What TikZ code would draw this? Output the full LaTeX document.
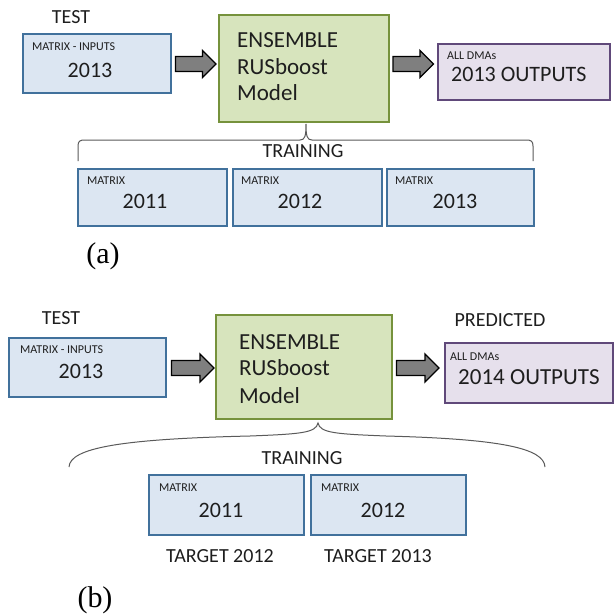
\documentclass[tikz,border=0pt]{standalone}
\usepackage{fontspec}
\setmainfont{Carlito}
\newfontfamily\capfont{Liberation Serif}
\definecolor{bluefill}{RGB}{220,230,242}
\definecolor{blueline}{RGB}{65,113,156}
\definecolor{greenfill}{RGB}{215,228,189}
\definecolor{greenline}{RGB}{118,146,60}
\definecolor{purplefill}{RGB}{230,224,236}
\definecolor{purpleline}{RGB}{96,73,122}
\definecolor{arrowfill}{RGB}{127,127,127}
\definecolor{bracecol}{RGB}{90,90,90}
\definecolor{txt}{RGB}{30,30,30}
\begin{document}
\begin{tikzpicture}[x=1pt,y=-1pt,
  bbox/.style={draw=blueline, fill=bluefill, line width=1.6pt, anchor=north west, inner sep=0pt},
  gbox/.style={draw=greenline, fill=greenfill, line width=1.6pt, anchor=north west, inner sep=0pt},
  pbox/.style={draw=purpleline, fill=purplefill, line width=1.6pt, anchor=north west, inner sep=0pt},
  blockarrow/.style={draw=black, fill=arrowfill, line width=1.4pt, line join=miter},
  small/.style={anchor=west, inner sep=0pt, text=txt, font=\fontsize{12}{12}\selectfont},
  num/.style={inner sep=0pt, text=txt, font=\fontsize{22}{22}\selectfont},
  big/.style={anchor=west, inner sep=0pt, text=txt, font=\fontsize{23}{23}\selectfont},
  head/.style={inner sep=0pt, text=txt, font=\fontsize{20}{20}\selectfont},
  captxt/.style={inner sep=0pt, font=\capfont\fontsize{30}{30}\selectfont},
  brace/.style={draw=bracecol, line width=1pt}]
\useasboundingbox (0,0) rectangle (614,614);
\fill[white] (0,0) rectangle (614,614);

% ---------------- (a) ----------------
\node[head] (aTest) at (71,17) {TEST};
\node[bbox, minimum width=148pt, minimum height=59pt] (aIn) at (22,33) {};
\node[small] (aInS) at (32,47) {MATRIX - INPUTS};
\node[num] (aInN) at (90,70) {2013};

\node[gbox, minimum width=170pt, minimum height=107pt] (aModel) at (218,14) {};
\node[big] (aM1) at (237,40) {ENSEMBLE};
\node[big] (aM2) at (237,67) {RUSboost};
\node[big] (aM3) at (237,93) {Model};

\node[pbox, minimum width=172pt, minimum height=56pt] (aOut) at (437,43) {};
\node[small] (aOutS) at (447,56) {ALL DMAs};
\node[num, anchor=west, font=\fontsize{22}{22}\selectfont] (aOutN) at (451,74) {2013 OUTPUTS};

\coordinate (aArr1) at (195.5,64);
\coordinate (aArr2) at (413,64);
\foreach \c in {aArr1,aArr2}
  \draw[blockarrow, shift={(\c)}] (-20,-7.5) -- (7,-7.5) -- (7,-13.5) -- (20.5,0)
     -- (7,13.5) -- (7,7.5) -- (-20,7.5) -- cycle;

\coordinate (aTip) at (306,124);
\coordinate (aBL) at (78,161);
\coordinate (aBR) at (533,161);
\draw[brace] (aBL) -- (78,146) .. controls (78,141) and (80,140) .. (85,140)
  -- (300,140) .. controls (305,140) and (306,136) .. (aTip)
  .. controls (306,136) and (307,140) .. (312,140) -- (526,140)
  .. controls (531,140) and (533,141) .. (533,146) -- (aBR);
\node[head] (aTrain) at (303,151) {TRAINING};

\node[bbox, minimum width=149pt, minimum height=57pt] (aT1) at (77,168) {};
\node[bbox, minimum width=149pt, minimum height=57pt] (aT2) at (232,168) {};
\node[bbox, minimum width=147pt, minimum height=57pt] (aT3) at (386,168) {};
\node[small] (aT1S) at (87,181) {MATRIX};
\node[small] (aT2S) at (241,181) {MATRIX};
\node[small] (aT3S) at (395,181) {MATRIX};
\node[num] (aT1N) at (145,201) {2011};
\node[num] (aT2N) at (300,201) {2012};
\node[num] (aT3N) at (455,201) {2013};

\node[captxt] (aCap) at (103,256) {(a)};

% ---------------- (b) ----------------
\node[head] (bTest) at (61,318) {TEST};
\node[bbox, minimum width=157pt, minimum height=59pt] (bIn) at (8,337) {};
\node[small] (bInS) at (20,350) {MATRIX - INPUTS};
\node[num] (bInN) at (81,371) {2013};

\node[gbox, minimum width=176pt, minimum height=104pt] (bModel) at (215,314) {};
\node[big] (bM1) at (239,342) {ENSEMBLE};
\node[big] (bM2) at (239,368) {RUSboost};
\node[big] (bM3) at (239,396) {Model};

\node[head] (bPred) at (500,320) {PREDICTED};
\node[pbox, minimum width=168pt, minimum height=60pt] (bOut) at (444,342) {};
\node[small] (bOutS) at (450,357) {ALL DMAs};
\node[num, anchor=west, font=\fontsize{23}{23}\selectfont] (bOutN) at (458,377) {2014 OUTPUTS};

\coordinate (bArr1) at (192.5,368);
\coordinate (bArr2) at (417.5,368);
\foreach \c in {bArr1,bArr2}
  \draw[blockarrow, shift={(\c)}] (-21,-7.5) -- (7.5,-7.5) -- (7.5,-14) -- (21.5,0)
     -- (7.5,14) -- (7.5,7.5) -- (-21,7.5) -- cycle;

\coordinate (bTip) at (318,423);
\coordinate (bBL) at (69,467);
\coordinate (bBR) at (545,467);
\draw[brace] (bBL) .. controls (70,448) and (120,439) .. (250,436)
  .. controls (300,434) and (316,433) .. (bTip)
  .. controls (320,433) and (336,434) .. (386,436)
  .. controls (500,439) and (544,448) .. (bBR);
\node[head] (bTrain) at (302,458) {TRAINING};

\node[bbox, minimum width=155pt, minimum height=60pt] (bT1) at (148,474) {};
\node[bbox, minimum width=155pt, minimum height=60pt] (bT2) at (310,474) {};
\node[small] (bT1S) at (159,488) {MATRIX};
\node[small] (bT2S) at (321,488) {MATRIX};
\node[num] (bT1N) at (221,510) {2011};
\node[num] (bT2N) at (383,510) {2012};

\node[head] (bTg1) at (220,556) {TARGET 2012};
\node[head] (bTg2) at (378,556) {TARGET 2013};

\node[captxt] (bCap) at (95,600) {(b)};
\end{tikzpicture}
\end{document}
